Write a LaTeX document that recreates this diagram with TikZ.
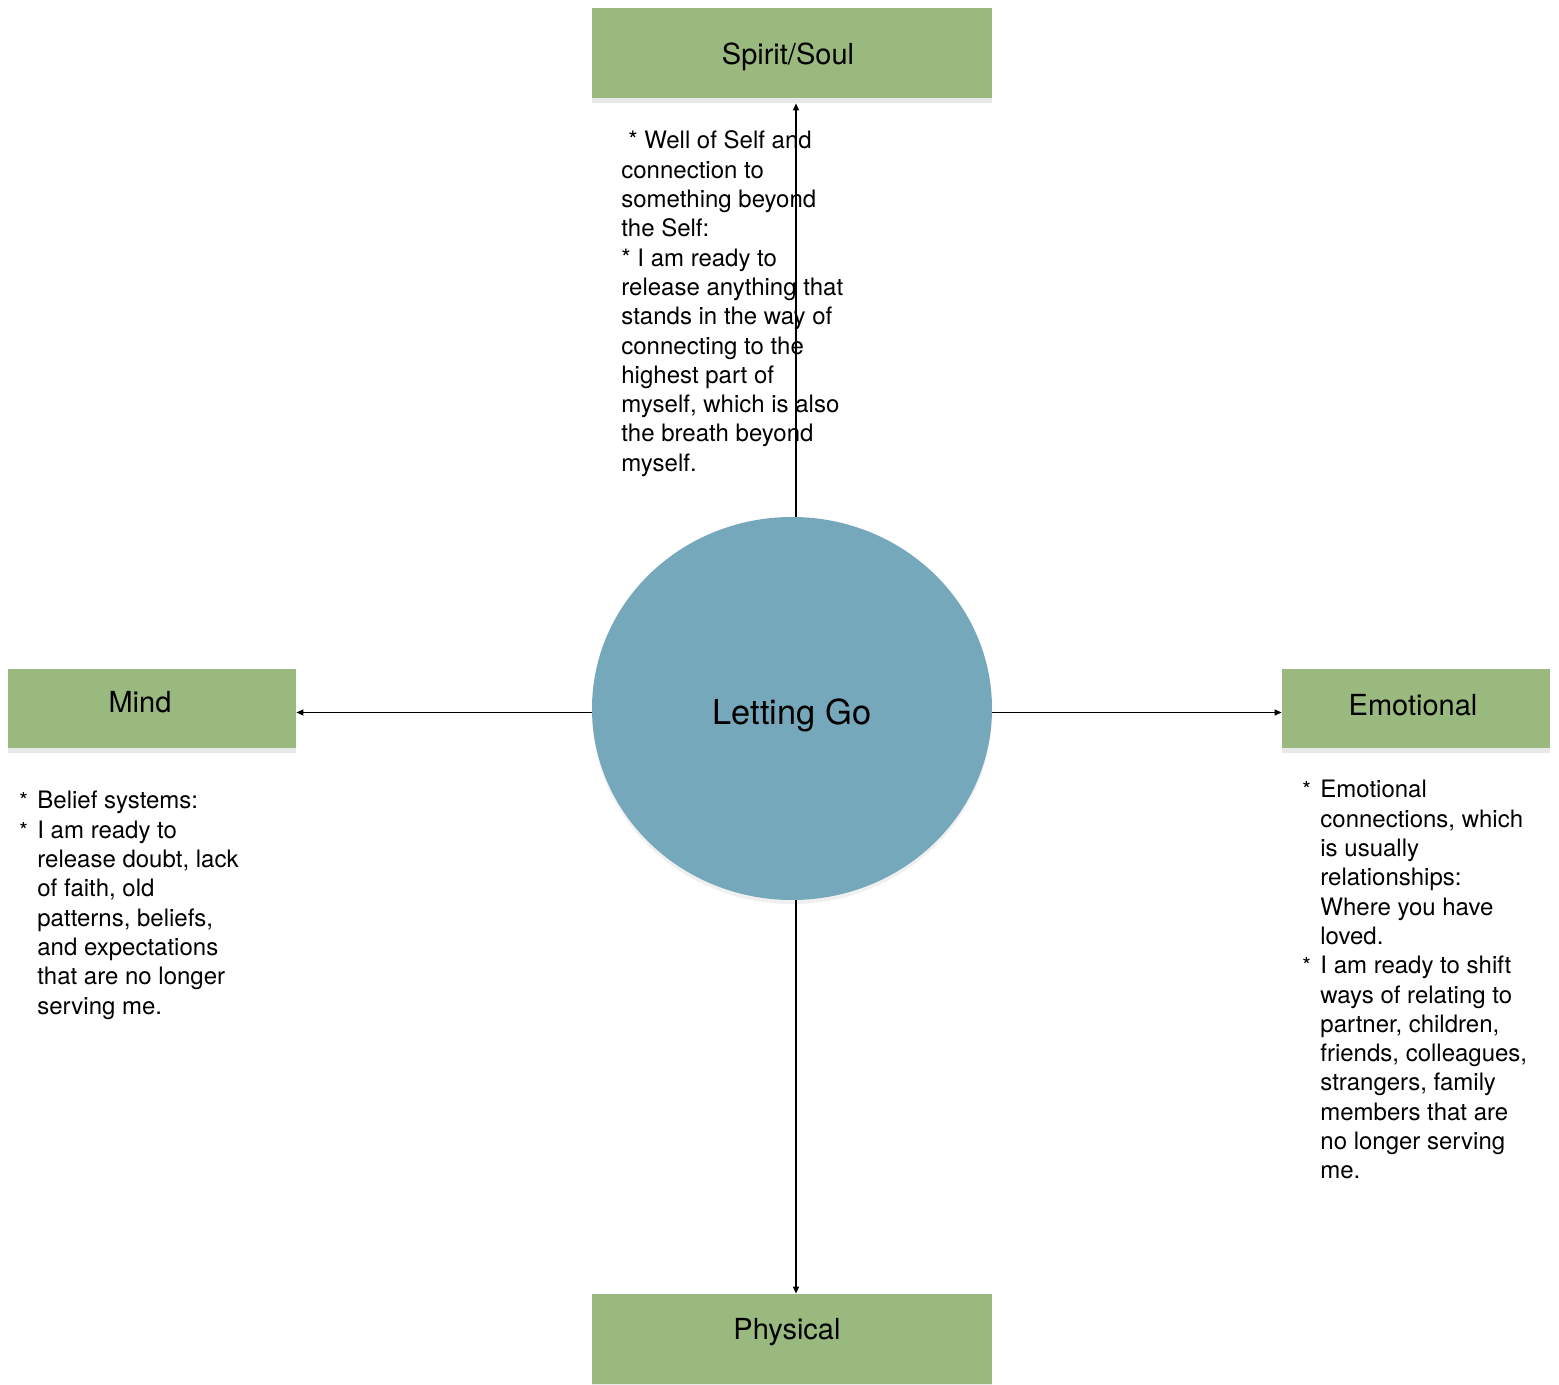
\documentclass[tikz,border=0pt]{standalone}
\usepackage{fontspec}
\setmainfont{TeX Gyre Heros}
\usepackage{array}
\usetikzlibrary{arrows.meta, positioning, shapes.geometric, shadows}
\definecolor{boxGreen}{HTML}{9AB97F}
\definecolor{hubBlue}{HTML}{76A8BC}
\newcommand{\bul}{\makebox[9pt][l]{\fontsize{11}{12}\selectfont *}}
\newcommand{\nudge}[2]{\kern#1\relax#2}

\begin{document}
\begin{tikzpicture}[x=0.5pt, y=-0.5pt,
  catbox/.style={fill=boxGreen, draw=none, minimum width=200pt, minimum height=45pt,
                 font=\fontsize{14.5}{17}\selectfont, inner sep=0pt, text depth=0pt, text height=10.4pt,
                 drop shadow={shadow xshift=0pt, shadow yshift=-2.5pt, opacity=0.18}},
  hub/.style={ellipse, fill=hubBlue, draw=none, minimum width=200pt, minimum height=191.5pt,
              font=\fontsize{17.2}{20}\selectfont, inner sep=0pt, text depth=0pt, text height=15.8pt,
              drop shadow={shadow xshift=0pt, shadow yshift=-2pt, opacity=0.12}},
  note/.style={font=\fontsize{12}{14.65}\selectfont, inner sep=0pt, anchor=north west, align=left},
  conn/.style={line width=0.6pt, -{Triangle[length=3.5pt,width=3pt]}},
]
  \useasboundingbox (0,0) rectangle (1559,1385);
  % categories round the centre
  \node[catbox, text height=11.4pt] (spirit) at (792,53) {\nudge{-4pt}{Spirit/Soul}};
  \node[catbox, minimum width=144pt, minimum height=39.5pt, text height=4.4pt] (mind) at (152,708.5) {\nudge{-12pt}{Mind}};
  \node[catbox, minimum width=134pt, minimum height=39.5pt, text height=7.4pt] (emotional) at (1416,708.5) {\nudge{-3pt}{Emotional}};
  \node[catbox, text height=0.4pt] (physical) at (792,1339) {\nudge{-5pt}{Physical}};
  \node[hub] (hub) at (792,708.5) {Letting Go};
  % connectors
  \draw[conn] ([xshift=2pt]hub.north) -- ([xshift=2pt,yshift=-2.5pt]spirit.south);
  \draw[conn] ([yshift=-2pt]hub.west) -- ([yshift=-2pt]mind.east);
  \draw[conn] ([yshift=-2pt]hub.east) -- ([yshift=-2pt]emotional.west);
  \draw[conn] ([xshift=2pt]hub.south) -- ([xshift=2pt]physical.north);
  % notes
  \node[note] (spiritnote) at (621,128) {\begin{tabular}{@{}l@{}}
    \hspace{3.5pt}* Well of Self and\\ connection to\\ something beyond\\ the Self:\\
    {*} I am ready to\\ release anything that\\ stands in the way of\\ connecting to the\\
    highest part of\\ myself, which is also\\ the breath beyond\\ myself.
  \end{tabular}};
  \node[note] (mindnote) at (19,788) {\begin{tabular}{@{}l@{}l@{}}
    \bul & Belief systems:\\ \bul & I am ready to\\ & release doubt, lack\\ & of faith, old\\
    & patterns, beliefs,\\ & and expectations\\ & that are no longer\\ & serving me.
  \end{tabular}};
  \node[note] (emotionalnote) at (1302,777) {\begin{tabular}{@{}l@{}l@{}}
    \bul & Emotional\\ & connections, which\\ & is usually\\ & relationships:\\
    & Where you have\\ & loved.\\ \bul & I am ready to shift\\ & ways of relating to\\
    & partner, children,\\ & friends, colleagues,\\ & strangers, family\\
    & members that are\\ & no longer serving\\ & me.
  \end{tabular}};
\end{tikzpicture}
\end{document}
